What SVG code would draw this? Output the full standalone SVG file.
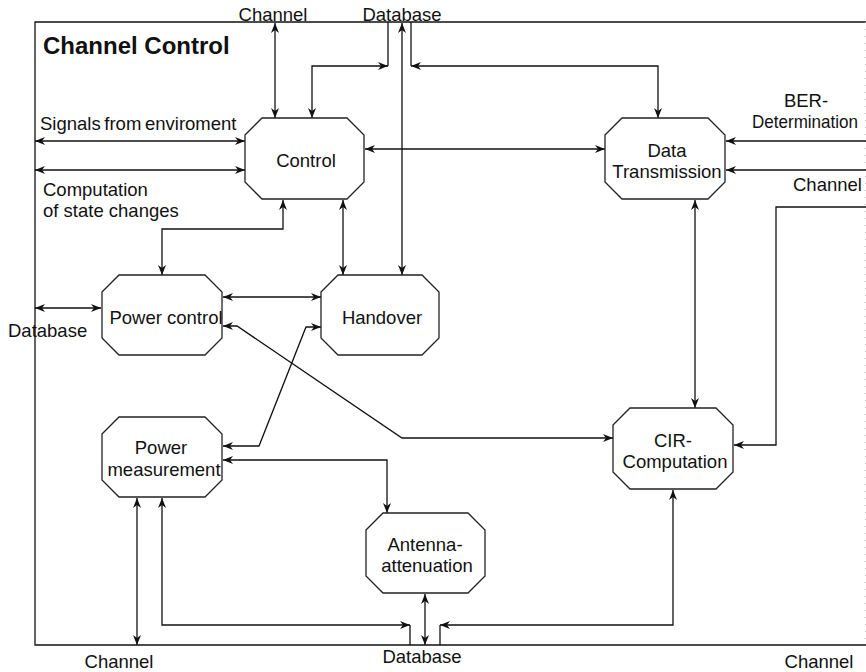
<svg xmlns="http://www.w3.org/2000/svg" width="866" height="672" viewBox="0 0 866 672">
<style>
.n{fill:#fff;stroke:#222;stroke-width:1.3}
.t{font-family:"Liberation Sans",Arial,sans-serif;font-size:18.5px;fill:#111}
.m{text-anchor:middle}
.c{fill:none;stroke:#111;stroke-width:1.3}
.a{marker-end:url(#ah)}
.b{marker-start:url(#ah);marker-end:url(#ah)}
</style>
<defs>
<marker id="ah" viewBox="0 0 10 8" refX="10" refY="4" markerWidth="10" markerHeight="8" markerUnits="userSpaceOnUse" orient="auto-start-reverse">
<path d="M0,0 L10,4 L0,8 L3,4 z" fill="#111"/>
</marker>
</defs>
<rect width="866" height="672" fill="#fff"/>
<g id="frame">
<path d="M866,22 H35 V645 H866" fill="none" stroke="#111" stroke-width="1.3"/>
<line x1="865.5" y1="22" x2="865.5" y2="645" stroke="#bbb" stroke-width="1" stroke-dasharray="1,6"/>
<text class="t" x="43" y="54" style="font-size:24px;font-weight:bold">Channel Control</text>
</g>
<g id="connectors">
<line class="c b" x1="275" y1="23" x2="275" y2="118"/>
<path class="c b" d="M312,118 V66 H388"/>
<line class="c" x1="388" y1="22" x2="388" y2="66"/>
<line class="c b" x1="402" y1="23" x2="402" y2="275"/>
<path class="c b" d="M658,118 V66 H411"/>
<line class="c" x1="411" y1="22" x2="411" y2="66"/>
<line class="c b" x1="35" y1="141" x2="245" y2="141"/>
<line class="c b" x1="35" y1="170" x2="245" y2="170"/>
<line class="c b" x1="365" y1="149" x2="605" y2="149"/>
<path class="c b" d="M283,200 V229 H162 V275"/>
<line class="c b" x1="343" y1="200" x2="343" y2="275"/>
<line class="c b" x1="223" y1="297" x2="321" y2="297"/>
<line class="c b" x1="35" y1="308" x2="101" y2="308"/>
<path class="c b" d="M223,326 H237 L402,438 H613"/>
<path class="c b" d="M223,446 H259 L306,327 H321"/>
<path class="c b" d="M223,460 H387 V513"/>
<line class="c b" x1="137" y1="498" x2="137" y2="645"/>
<path class="c b" d="M162,498 V625 H410"/>
<line class="c" x1="410" y1="625" x2="410" y2="645"/>
<line class="c b" x1="425" y1="594" x2="425" y2="645"/>
<path class="c b" d="M673,490 V625 H440"/>
<line class="c" x1="440" y1="625" x2="440" y2="645"/>
<line class="c b" x1="695" y1="200" x2="695" y2="408"/>
<line class="c a" x1="866" y1="141" x2="726" y2="141"/>
<line class="c a" x1="866" y1="170" x2="726" y2="170"/>
<path class="c a" d="M866,207 H776 V445 H734"/>
</g>
<g id="control">
<polygon class="n" points="245,135 262,118 347,118 364,135 364,182 347,199 262,199 245,182"/>
<text class="t m" x="306" y="167">Control</text>
</g>
<g id="data-transmission">
<polygon class="n" points="605,135 622,118 708,118 725,135 725,182 708,199 622,199 605,182"/>
<text class="t m" x="667" y="157">Data</text>
<text class="t m" x="667" y="178">Transmission</text>
</g>
<g id="power-control">
<polygon class="n" points="102,292 119,275 205,275 222,292 222,338 205,355 119,355 102,338"/>
<text class="t m" x="166" y="324">Power control</text>
</g>
<g id="handover">
<polygon class="n" points="321,292 338,275 422,275 439,292 439,338 422,355 338,355 321,338"/>
<text class="t m" x="382" y="324">Handover</text>
</g>
<g id="power-measurement">
<polygon class="n" points="102,434 119,417 205,417 222,434 222,480 205,497 119,497 102,480"/>
<text class="t m" x="161" y="454">Power</text>
<text class="t m" x="164" y="476">measurement</text>
</g>
<g id="antenna-attenuation">
<polygon class="n" points="366,530 383,513 468,513 485,530 485,576 468,593 383,593 366,576"/>
<text class="t m" x="425" y="551">Antenna-</text>
<text class="t m" x="427" y="572">attenuation</text>
</g>
<g id="cir-computation">
<polygon class="n" points="613,425 630,408 716,408 733,425 733,472 716,489 630,489 613,472"/>
<text class="t m" x="673" y="447">CIR-</text>
<text class="t m" x="675" y="468">Computation</text>
</g>
<g id="labels">
<text class="t m" x="273" y="21">Channel</text>
<text class="t m" x="402" y="21">Database</text>
<text class="t" x="40" y="130" word-spacing="-1.5">Signals from enviroment</text>
<text class="t" x="43" y="196">Computation</text>
<text class="t" x="43" y="217">of state changes</text>
<text class="t" x="8" y="337">Database</text>
<text class="t m" x="806" y="107">BER-</text>
<text class="t" x="752" y="128" textLength="106" lengthAdjust="spacingAndGlyphs">Determination</text>
<text class="t" x="793" y="191">Channel</text>
<text class="t m" x="119" y="668">Channel</text>
<text class="t m" x="422" y="663">Database</text>
<text class="t m" x="819" y="668">Channel</text>
</g>
</svg>
